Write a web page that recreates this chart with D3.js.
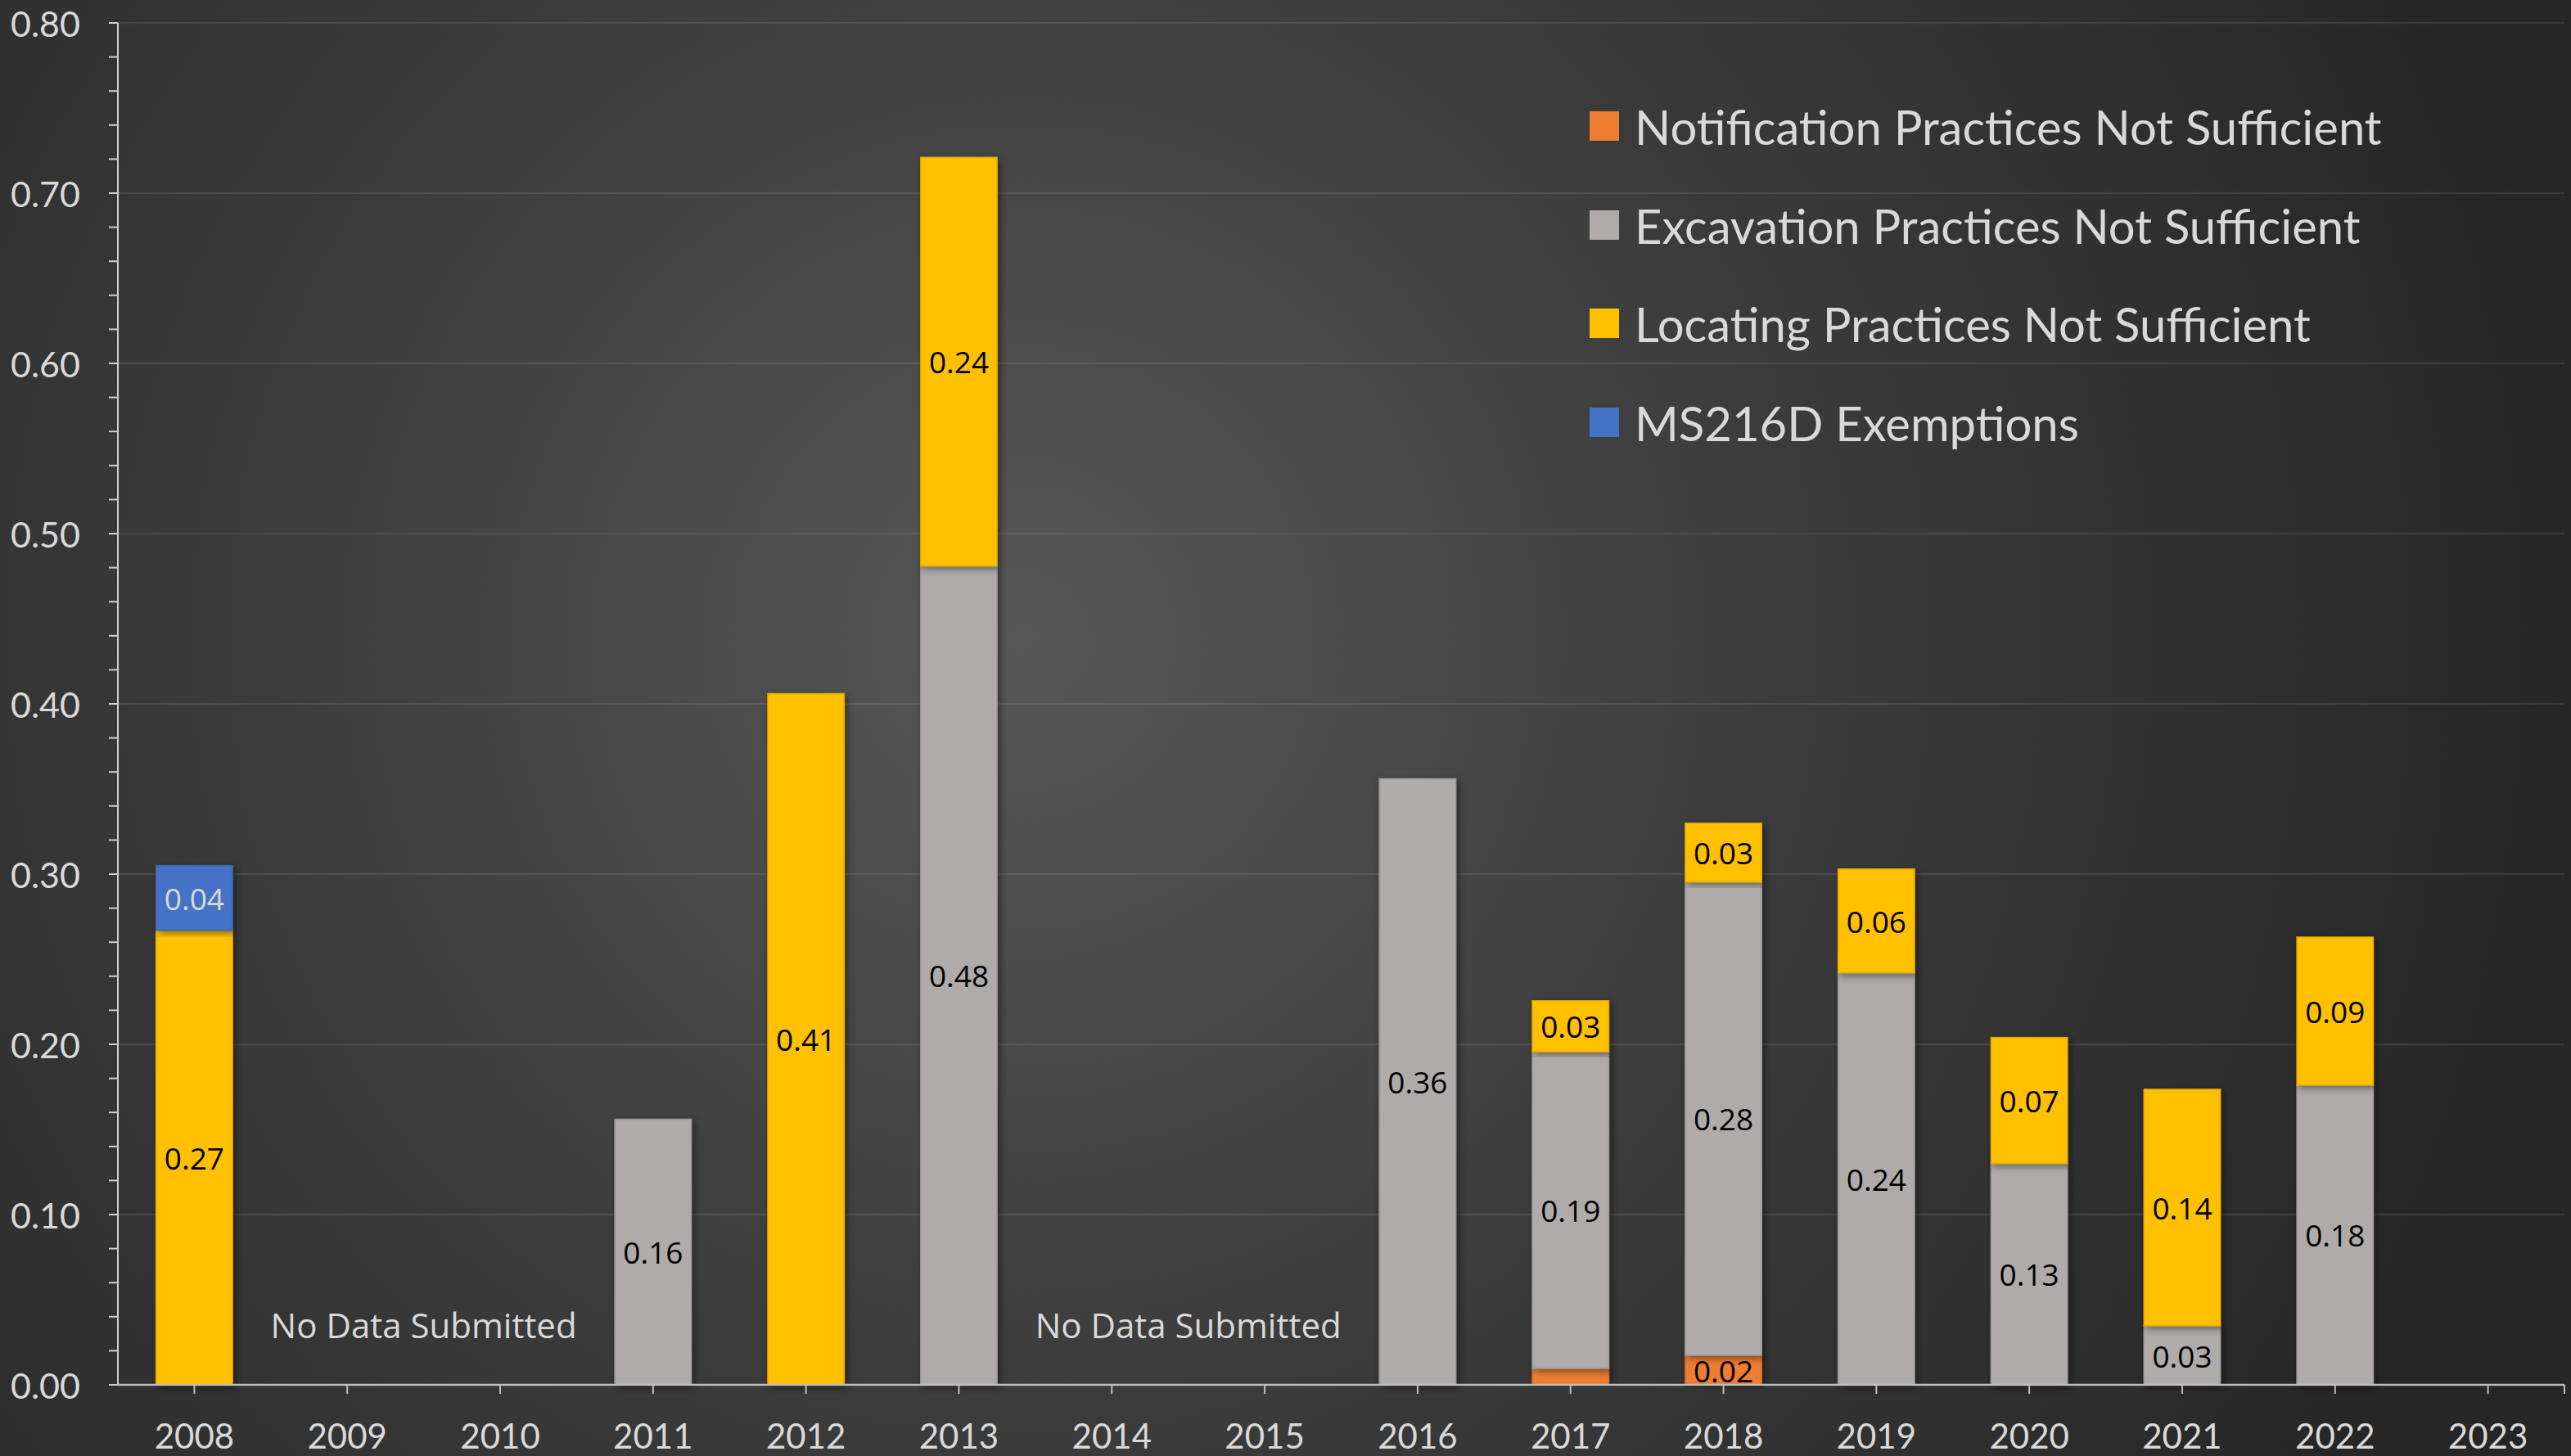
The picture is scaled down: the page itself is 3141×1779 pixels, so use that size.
<!DOCTYPE html>
<html>
<head>
<meta charset="utf-8">
<script src="https://cdn.jsdelivr.net/npm/d3@7"></script>
<style>
  html, body { margin: 0; padding: 0; background: #262626; }
  svg { display: block; }
</style>
</head>
<body>
<svg id="chart" width="3141" height="1779"></svg>
<script>
// ---------- data ----------
const years = ["2008","2009","2010","2011","2012","2013","2014","2015","2016","2017","2018","2019","2020","2021","2022","2023"];
const notification = [0, 0, 0, 0, 0, 0, 0, 0, 0, 0.0096, 0.0173, 0, 0, 0, 0, 0];
const excavation   = [0, 0, 0, 0.156, 0, 0.481, 0, 0, 0.356, 0.186, 0.278, 0.242, 0.130, 0.0346, 0.176, 0];
const locating     = [0.267, 0, 0, 0, 0.406, 0.240, 0, 0, 0, 0.030, 0.0346, 0.061, 0.074, 0.139, 0.087, 0];
const ms216d       = [0.038, 0, 0, 0, 0, 0, 0, 0, 0, 0, 0, 0, 0, 0, 0, 0];
const seriesNames  = ["Notification Practices Not Sufficient", "Excavation Practices Not Sufficient", "Locating Practices Not Sufficient", "MS216D Exemptions"];
const seriesColors = ["#ED7D31", "#AFABAB", "#FFC000", "#4472C4"];
const labelColors  = ["#000000", "#000000", "#000000", "#D9D9D9"];
const yTicks = [0, 0.1, 0.2, 0.3, 0.4, 0.5, 0.6, 0.7, 0.8];
const noDataNotes = [{from: "2009", to: "2010", text: "No Data Submitted"}, {from: "2014", to: "2015", text: "No Data Submitted"}];

// ---------- setup ----------
const W = 3141, H = 1779;
const svg = d3.select("#chart");
const defs = svg.append("defs");

const grad = defs.append("radialGradient").attr("id", "bg")
  .attr("gradientUnits", "userSpaceOnUse")
  .attr("cx", 1250).attr("cy", 780).attr("r", 1900);
grad.append("stop").attr("offset", 0).attr("stop-color", "#575757");
grad.append("stop").attr("offset", 0.5).attr("stop-color", "#3b3b3b");
grad.append("stop").attr("offset", 1).attr("stop-color", "#262626");

const shadow = defs.append("filter").attr("id", "shadow")
  .attr("x", "-30%").attr("y", "-10%").attr("width", "160%").attr("height", "120%");
shadow.append("feDropShadow").attr("dx", 3).attr("dy", 3).attr("stdDeviation", 5)
  .attr("flood-color", "#000").attr("flood-opacity", 0.45);

svg.append("rect").attr("width", W).attr("height", H).attr("fill", "url(#bg)");

const plot = {left: 144, right: 3133, top: 28, bottom: 1692};

const x = d3.scaleBand().domain(years).range([plot.left, plot.right])
  .paddingInner(0.5).paddingOuter(0.25);
const y = d3.scaleLinear().domain([0, 0.8]).range([plot.bottom, plot.top]);

// gridlines
svg.append("g").selectAll("line").data(yTicks.filter(d => d > 0)).join("line")
  .attr("x1", plot.left).attr("x2", plot.right)
  .attr("y1", d => y(d)).attr("y2", d => y(d))
  .attr("stroke", "rgba(255,255,255,0.09)").attr("stroke-width", 2.5);

// stacked data
const table = years.map((yr, i) => ({
  year: yr,
  s0: notification[i], s1: excavation[i], s2: locating[i], s3: ms216d[i]
}));
const keys = ["s0", "s1", "s2", "s3"];
const stacked = d3.stack().keys(keys)(table);

const fmt = d3.format(".2f");

const barsG = svg.append("g");
stacked.forEach((layer, li) => {
  const g = barsG.append("g");
  g.selectAll("rect").data(layer.filter(d => d[1] - d[0] > 0)).join("rect")
    .attr("x", d => x(d.data.year))
    .attr("width", x.bandwidth())
    .attr("y", d => y(d[1]))
    .attr("height", d => y(d[0]) - y(d[1]))
    .attr("fill", seriesColors[li])
    .attr("stroke", d3.color(seriesColors[li]).darker(0.35))
    .attr("stroke-width", 1.5)
    .attr("filter", "url(#shadow)");
});

// data labels
stacked.forEach((layer, li) => {
  svg.append("g").selectAll("text").data(layer.filter(d => d[1] - d[0] >= 0.015)).join("text")
    .attr("x", d => x(d.data.year) + x.bandwidth() / 2)
    .attr("y", d => (y(d[0]) + y(d[1])) / 2)
    .attr("text-anchor", "middle")
    .attr("dominant-baseline", "central")
    .attr("font-family", "'Open Sans', sans-serif")
    .attr("font-size", 37)
    .attr("fill", labelColors[li])
    .text(d => fmt(d[1] - d[0]));
});

// y axis
const yMinor = d3.range(0, 0.8001, 0.02);
const yAxisG = svg.append("g");
yAxisG.append("line").attr("x1", plot.left).attr("x2", plot.left)
  .attr("y1", plot.top).attr("y2", plot.bottom)
  .attr("stroke", "#d0d0d0").attr("stroke-width", 2);
yAxisG.selectAll("line.tick").data(yMinor).join("line").attr("class", "tick")
  .attr("x1", plot.left - 11).attr("x2", plot.left)
  .attr("y1", d => y(d)).attr("y2", d => y(d))
  .attr("stroke", "#d0d0d0").attr("stroke-width", 2);
yAxisG.selectAll("text").data(yTicks).join("text")
  .attr("x", 98).attr("y", d => y(d))
  .attr("text-anchor", "end").attr("dominant-baseline", "central")
  .attr("font-family", "Lato, sans-serif").attr("font-size", 43)
  .attr("fill", "#d9d9d9")
  .text(d => fmt(d));

// x axis
const xAxisG = svg.append("g");
xAxisG.append("line").attr("x1", plot.left).attr("x2", plot.right)
  .attr("y1", plot.bottom).attr("y2", plot.bottom)
  .attr("stroke", "#bfbfbf").attr("stroke-width", 2.5);
const xTickPos = years.map(d => x(d) + x.bandwidth() / 2).concat([plot.right]);
xAxisG.selectAll("line.tick").data(xTickPos).join("line").attr("class", "tick")
  .attr("x1", d => d).attr("x2", d => d)
  .attr("y1", plot.bottom).attr("y2", plot.bottom + 11)
  .attr("stroke", "#bfbfbf").attr("stroke-width", 2);
xAxisG.selectAll("text").data(years).join("text")
  .attr("x", d => x(d) + x.bandwidth() / 2).attr("y", 1770)
  .attr("text-anchor", "middle")
  .attr("font-family", "Lato, sans-serif").attr("font-size", 42)
  .attr("fill", "#d9d9d9")
  .text(d => d);

// "No Data Submitted" notes
svg.append("g").selectAll("text").data(noDataNotes).join("text")
  .attr("x", d => (x(d.from) + x(d.to) + x.bandwidth()) / 2)
  .attr("y", 1618)
  .attr("text-anchor", "middle").attr("dominant-baseline", "central")
  .attr("font-family", "'Open Sans', sans-serif").attr("font-size", 42)
  .attr("fill", "#d9d9d9")
  .text(d => d.text);

// legend
const legend = svg.append("g").attr("transform", "translate(1942,0)");
const legRows = [154, 275, 395, 516];
seriesNames.forEach((name, i) => {
  const g = legend.append("g").attr("transform", `translate(0,${legRows[i]})`);
  g.append("rect").attr("x", 0).attr("y", -18).attr("width", 36).attr("height", 36)
    .attr("fill", seriesColors[i]);
  g.append("text").attr("x", 55).attr("y", 0)
    .attr("dominant-baseline", "central")
    .attr("font-family", "Lato, sans-serif").attr("font-size", 58)
    .attr("fill", "#d9d9d9")
    .text(name);
});
</script>
</body>
</html>
